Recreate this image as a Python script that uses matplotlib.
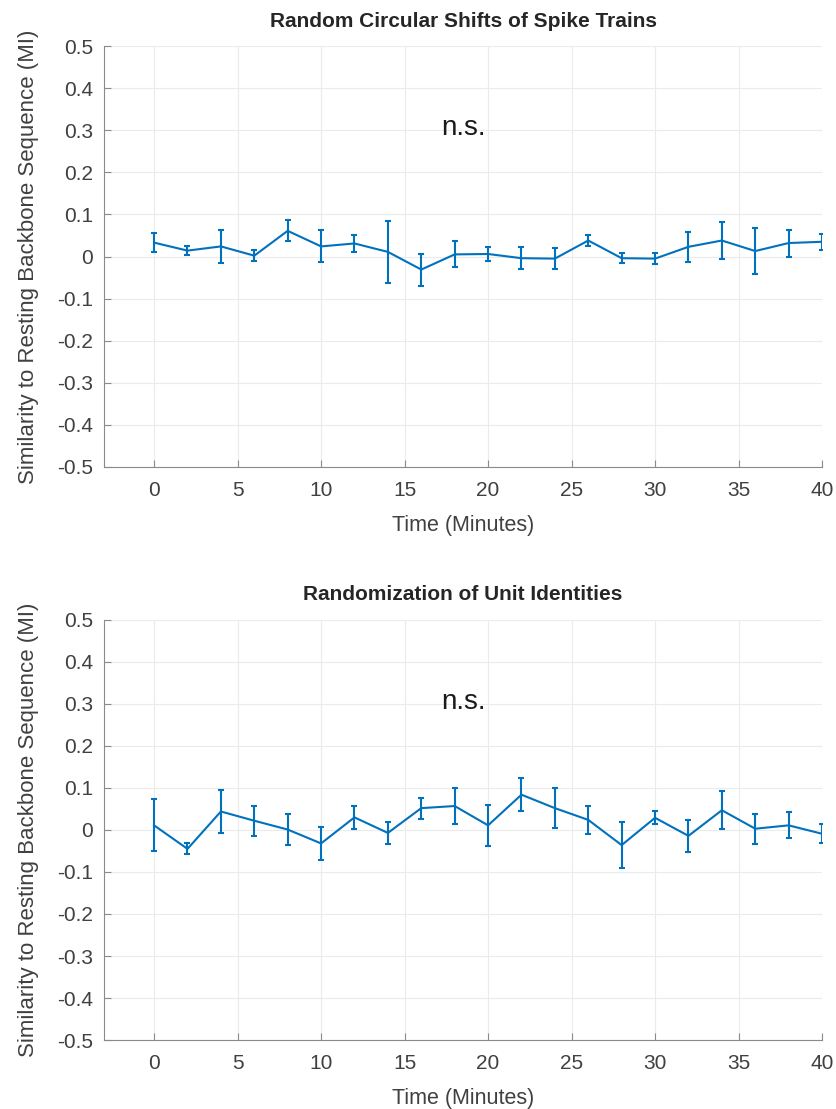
import matplotlib.pyplot as plt

plt.rcParams['font.family'] = ['Liberation Sans', 'DejaVu Sans']

time_min = [0, 2, 4, 6, 8, 10, 12, 14, 16, 18, 20, 22, 24, 26, 28, 30, 32, 34, 36, 38, 40]

shift_mean = [0.033, 0.014, 0.024, 0.002, 0.061, 0.024, 0.031, 0.011, -0.031, 0.005, 0.006,
              -0.004, -0.005, 0.038, -0.004, -0.005, 0.023, 0.038, 0.013, 0.032, 0.035]
shift_err = [0.022, 0.010, 0.039, 0.013, 0.025, 0.038, 0.021, 0.073, 0.038, 0.031, 0.017,
             0.026, 0.025, 0.014, 0.012, 0.013, 0.036, 0.044, 0.054, 0.032, 0.019]

ident_mean = [0.011, -0.045, 0.044, 0.022, 0.001, -0.032, 0.030, -0.007, 0.052, 0.057, 0.011,
              0.084, 0.052, 0.024, -0.036, 0.029, -0.014, 0.047, 0.003, 0.011, -0.009]
ident_err = [0.062, 0.013, 0.052, 0.036, 0.036, 0.040, 0.027, 0.027, 0.025, 0.042, 0.048,
             0.039, 0.047, 0.033, 0.055, 0.015, 0.038, 0.045, 0.036, 0.031, 0.023]

titles = ['Random Circular Shifts of Spike Trains', 'Randomization of Unit Identities']

line_color = '#0072BD'
text_color = '#404040'
axis_color = '#8a8a8a'

fig = plt.figure(figsize=(8.36, 11.09), dpi=100)
ax_top = fig.add_axes([0.1244, 0.5789, 0.8589, 0.3796])
ax_bot = fig.add_axes([0.1244, 0.0622, 0.8589, 0.3788])

for ax, mean, err, title in [(ax_top, shift_mean, shift_err, titles[0]),
                             (ax_bot, ident_mean, ident_err, titles[1])]:
    ax.errorbar(time_min, mean, yerr=err, color=line_color, lw=1.5,
                elinewidth=1.5, capsize=2.5, capthick=1.5)
    ax.set_xlim(-3, 40)
    ax.set_ylim(-0.5, 0.5)
    ax.set_xticks(range(0, 41, 5))
    ax.set_yticks([-0.5, -0.4, -0.3, -0.2, -0.1, 0, 0.1, 0.2, 0.3, 0.4, 0.5])
    ax.set_yticklabels(['-0.5', '-0.4', '-0.3', '-0.2', '-0.1', '0',
                        '0.1', '0.2', '0.3', '0.4', '0.5'])
    ax.grid(True, color='#ebebeb', lw=0.8)
    ax.set_axisbelow(True)
    for side in ['top', 'right']:
        ax.spines[side].set_visible(False)
    for side in ['left', 'bottom']:
        ax.spines[side].set_color(axis_color)
    ax.tick_params(direction='in', length=5, color=axis_color,
                   labelcolor=text_color, labelsize=15)
    ax.tick_params(axis='x', pad=10)
    ax.tick_params(axis='y', pad=8)
    ax.set_title(title, fontsize=15, fontweight='bold', color='#262626', pad=14)
    ax.set_xlabel('Time (Minutes)', fontsize=15.5, color=text_color, labelpad=11)
    ax.set_ylabel('Similarity to Resting Backbone Sequence (MI)', fontsize=16,
                  color=text_color, labelpad=13)
    ax.text(18.5, 0.305, 'n.s.', fontsize=20, color='#1a1a1a', ha='center', va='center')

fig.savefig('out.png', dpi=100)
